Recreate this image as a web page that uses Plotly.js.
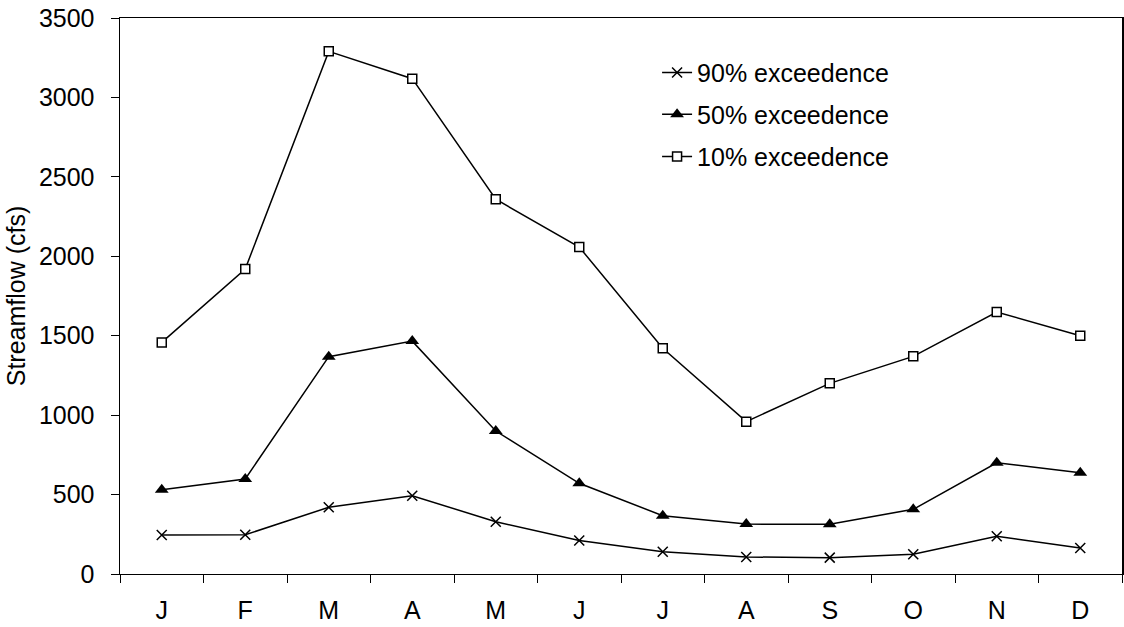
<!DOCTYPE html>
<html>
<head>
<meta charset="utf-8">
<script src="https://cdn.plot.ly/plotly-3.0.1.min.js"></script>
<style>html,body{margin:0;padding:0;background:#fff;}#chart{width:1124px;height:627px;}</style>
</head>
<body>
<div id="chart"></div>
<script>
const months = ['Jan','Feb','Mar','Apr','May','Jun','Jul','Aug','Sep','Oct','Nov','Dec'];
const monthLabels = ['J','F','M','A','M','J','J','A','S','O','N','D'];
const exc90 = [245, 247, 420, 493, 329, 211, 140, 107, 103, 124, 238, 164];
const exc50 = [530, 598, 1368, 1466, 900, 571, 367, 314, 313, 407, 700, 638];
const exc10 = [1458, 1920, 3290, 3118, 2359, 2058, 1421, 959, 1200, 1370, 1649, 1500];
const seriesNames = ['90% exceedence', '50% exceedence', '10% exceedence'];

const font = {family: 'Arial, "Liberation Sans", sans-serif', size: 25, color: '#000'};

const traces = [
  {x: months, y: exc90, name: seriesNames[0], legend: 'legend', type: 'scatter', mode: 'lines+markers',
   line: {color: '#000', width: 1.5},
   marker: {symbol: 'x-thin', size: 10, line: {color: '#000', width: 1.5}, color: '#000'}},
  {x: months, y: exc50, name: seriesNames[1], legend: 'legend2', type: 'scatter', mode: 'lines+markers',
   line: {color: '#000', width: 1.5},
   marker: {symbol: 'triangle-up', size: 12, color: '#000', line: {color: '#000', width: 0}}},
  {x: months, y: exc10, name: seriesNames[2], legend: 'legend3', type: 'scatter', mode: 'lines+markers',
   line: {color: '#000', width: 1.5},
   marker: {symbol: 'square', size: 9, color: '#fff', line: {color: '#000', width: 1.5}}}
];

const legendBase = {x: 0.536, xanchor: 'left', yanchor: 'top', font: font,
                    bgcolor: 'rgba(0,0,0,0)', itemwidth: 30};

const layout = {
  width: 1124, height: 627,
  margin: {l: 120, r: 2, t: 18, b: 53, pad: 0},
  paper_bgcolor: '#fff', plot_bgcolor: '#fff',
  font: font,
  showlegend: true,
  legend: Object.assign({}, legendBase, {y: 0.943}),
  legend2: Object.assign({}, legendBase, {y: 0.868}),
  legend3: Object.assign({}, legendBase, {y: 0.792}),
  xaxis: {type: 'category', range: [-0.5, 11.5], tickmode: 'array', tickvals: months, ticktext: monthLabels,
          tickson: 'boundaries', ticks: 'outside', ticklen: 8, tickcolor: '#000', tickwidth: 1,
          showline: true, linecolor: '#000', linewidth: 1, mirror: true, showgrid: false, zeroline: false,
          tickfont: font, ticklabelstandoff: 14},
  yaxis: {range: [0, 3500], dtick: 500, tick0: 0, ticks: 'outside', ticklen: 8, tickcolor: '#000', tickwidth: 1,
          showline: true, linecolor: '#000', linewidth: 1.5, mirror: true, showgrid: false, zeroline: false,
          tickfont: font, ticklabelstandoff: 11,
          title: {text: 'Streamflow (cfs)', font: font, standoff: 6}}
};

Plotly.newPlot('chart', traces, layout, {displayModeBar: false, staticPlot: true});
</script>
</body>
</html>
